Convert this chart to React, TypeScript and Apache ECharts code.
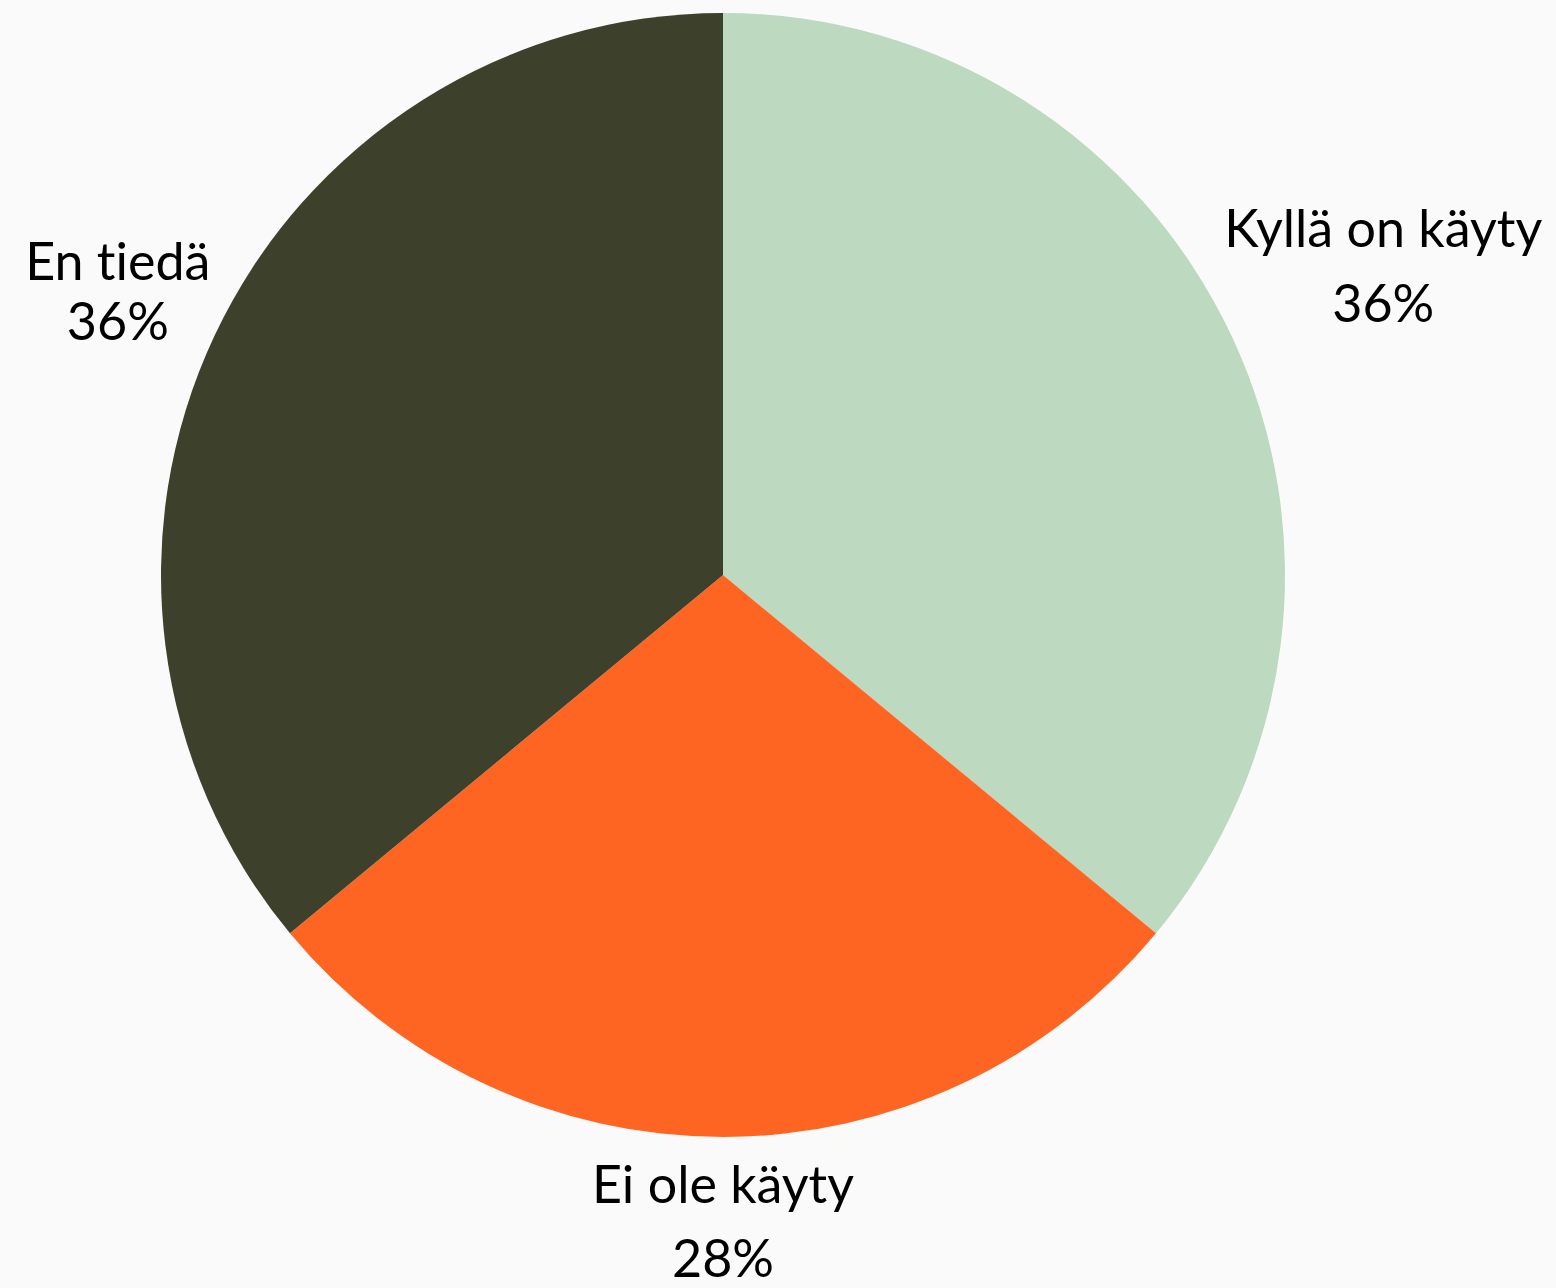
import React, { useEffect, useRef } from "react";
import * as echarts from "echarts";

const categories = ["Kyllä on käyty", "Ei ole käyty", "En tiedä"];
const values = [36, 28, 36];
const colors = ["#bdd9bf", "#ff6522", "#3d402a"];
const lineHeights = [75, 74, 60];
const radialNudge = [-12, 5, 0];

const CX = 723;
const CY = 575;
const R = 562;
const GAP = 4;

export default function App() {
  const ref = useRef<HTMLDivElement>(null);
  useEffect(() => {
    document.body.style.margin = "0";
    document.body.style.background = "#fafafa";
    const chart = echarts.init(ref.current!, null, { renderer: "svg" });
    const total = values.reduce((a, b) => a + b, 0);
    let acc = 0;
    const mids = values.map((v) => {
      const m = ((acc + v / 2) / total) * Math.PI * 2;
      acc += v;
      return m;
    });
    chart.setOption({
      animation: false,
      backgroundColor: "#fafafa",
      series: [
        {
          type: "pie",
          center: [CX, CY],
          radius: R,
          startAngle: 90,
          clockwise: true,
          avoidLabelOverlap: false,
          data: categories.map((name, i) => ({
            name,
            value: values[i],
            itemStyle: { color: colors[i] },
            label: { lineHeight: lineHeights[i] },
          })),
          itemStyle: { borderWidth: 0 },
          emphasis: { disabled: true },
          label: {
            show: true,
            position: "outside",
            formatter: "{b}\n{c}%",
            fontFamily: "Lato",
            fontSize: 52,
            color: "#000",
            align: "center",
          },
          labelLine: { show: false },
          labelLayout: (params: any) => {
            const i = params.dataIndex;
            const m = mids[i];
            const dx = Math.sin(m);
            const dy = -Math.cos(m);
            const d = R + GAP + radialNudge[i];
            const px = CX + dx * d;
            const py = CY + dy * d;
            const w = params.labelRect.width;
            const h = params.labelRect.height;
            const tx = Math.abs(dx) > 1e-6 ? w / 2 / Math.abs(dx) : Infinity;
            const ty = Math.abs(dy) > 1e-6 ? h / 2 / Math.abs(dy) : Infinity;
            const t = Math.min(tx, ty);
            return {
              x: px + dx * t,
              y: py + dy * t,
              align: "center",
              verticalAlign: "middle",
            };
          },
        },
      ],
    });
    return () => chart.dispose();
  }, []);
  return (
    <>
      <style>{"svg text { font-variant-ligatures: none; font-feature-settings: 'liga' 0; }"}</style>
      <div ref={ref} style={{ width: 1556, height: 1288 }} />
    </>
  );
}
